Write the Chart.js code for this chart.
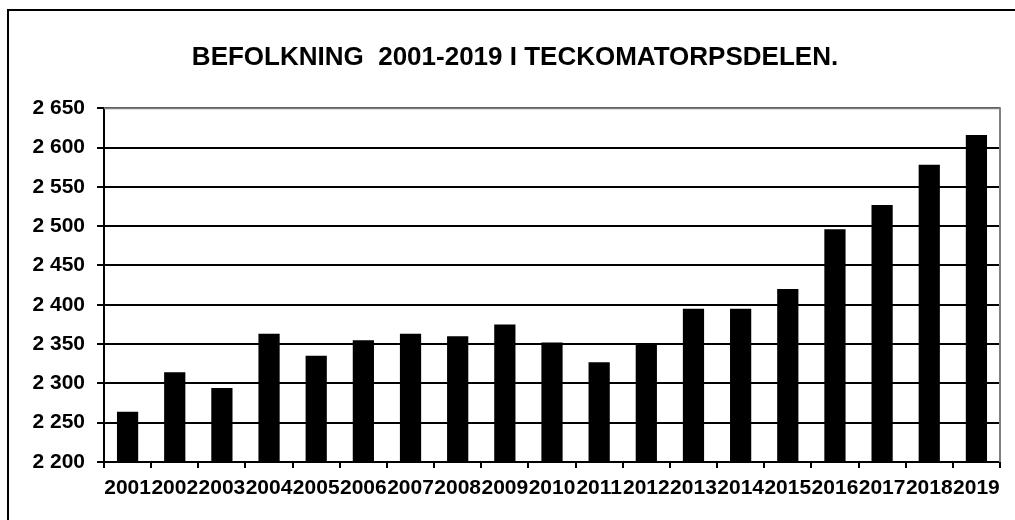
<!DOCTYPE html>
<html>
<head>
<meta charset="utf-8">
<script src="https://cdn.jsdelivr.net/npm/chart.js@4/dist/chart.umd.min.js"></script>
<style>
  body { margin: 0; background: #fff; }
  #wrap { width: 1015px; height: 520px; }
</style>
</head>
<body>
<div id="wrap"><canvas id="graphique"></canvas></div>
<script>
const years = ["2001","2002","2003","2004","2005","2006","2007","2008","2009","2010",
               "2011","2012","2013","2014","2015","2016","2017","2018","2019"];
const befolkning = [2264, 2314, 2294, 2363, 2335, 2355, 2363, 2360, 2375, 2352,
                    2327, 2349, 2395, 2395, 2420, 2496, 2527, 2578, 2616];
const yMin = 2200;
const yMax = 2650;
const yStep = 50;

const font = "Arial, 'Liberation Sans', sans-serif";

// outer frame + grey top/right of plot area
const ramPlugin = {
    id: "ram",
    beforeDraw(chart) {
        const ctx = chart.ctx;
        ctx.save();
        ctx.fillStyle = "#fff";
        ctx.fillRect(0, 0, chart.width, chart.height);
        ctx.strokeStyle = "#000";
        ctx.lineWidth = 2;
        ctx.strokeRect(8, 10, 1030, 540);
        ctx.restore();
    },
    afterDraw(chart) {
        const a = chart.chartArea;
        const ctx = chart.ctx;
        ctx.save();
        ctx.strokeStyle = "#808080";
        ctx.lineWidth = 2;
        ctx.beginPath();
        ctx.moveTo(a.left, a.top);
        ctx.lineTo(a.right, a.top);
        ctx.lineTo(a.right, a.bottom);
        ctx.stroke();
        ctx.restore();
    }
};

const data = {
    labels: years,
    datasets: [{
        data: befolkning,
        backgroundColor: "#000",
        borderWidth: 0,
        barPercentage: 0.45,
        categoryPercentage: 1
    }]
};

const config = {
    type: "bar",
    data: data,
    plugins: [ramPlugin],
    options: {
        responsive: true,
        maintainAspectRatio: false,
        animation: false,
        layout: {
            padding: { left: 30, right: 15, top: 0, bottom: 0 }
        },
        scales: {
            x: {
                grid: {
                    offset: true,
                    drawOnChartArea: false,
                    color: "#000",
                    lineWidth: 2,
                    tickLength: 6
                },
                border: { display: false },
                ticks: {
                    autoSkip: false,
                    maxRotation: 0,
                    minRotation: 0,
                    color: "#000",
                    padding: 8,
                    font: { family: font, size: 21, weight: "bold" }
                },
                afterFit: function (scale) { scale.height = 58; }
            },
            y: {
                min: yMin,
                max: yMax,
                ticks: {
                    stepSize: yStep,
                    color: "#000",
                    padding: 12,
                    font: { family: font, size: 21, weight: "bold" },
                    callback: function (v) {
                        const s = String(v);
                        return s.slice(0, s.length - 3) + " " + s.slice(-3);
                    }
                },
                grid: {
                    color: "#000",
                    lineWidth: 2,
                    tickLength: 7
                },
                border: { color: "#000", width: 2 },
                afterFit: function (scale) { scale.width = 74; }
            }
        },
        plugins: {
            legend: { display: false },
            tooltip: { enabled: false },
            title: {
                display: true,
                text: "BEFOLKNING  2001-2019 I TECKOMATORPSDELEN.",
                color: "#000",
                font: { family: font, size: 26, weight: "bold" },
                padding: { top: 42, bottom: 35 }
            }
        }
    }
};

new Chart(document.querySelector("#graphique"), config);
</script>
</body>
</html>
